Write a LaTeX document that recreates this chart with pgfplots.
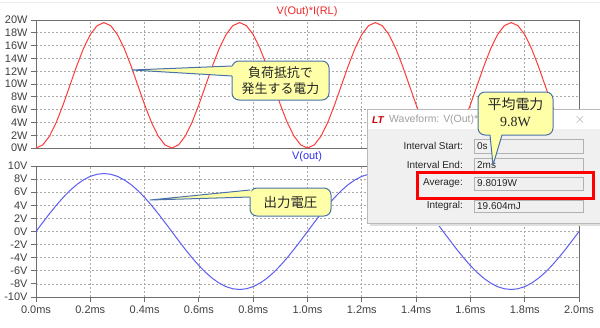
\documentclass[border=0pt]{standalone}
\usepackage{pgfplots}
\pgfplotsset{compat=1.18}
\usepackage{pgfplotstable}
\usepackage{fontspec}
\setmainfont{Liberation Sans}
\newfontfamily\cjk{Noto Sans CJK JP}
\newfontfamily\serif{Liberation Serif}

\definecolor{lred}{HTML}{FF3B3B}
\definecolor{lblue}{HTML}{5C5CF2}
\definecolor{tred}{HTML}{F02828}
\definecolor{tblue}{HTML}{3030F0}
\definecolor{framec}{HTML}{6E6E6E}
\definecolor{gridc}{HTML}{A8A8A8}
\definecolor{labc}{HTML}{404040}
\definecolor{callfill}{HTML}{FFFFA8}
\definecolor{callline}{HTML}{4A72A8}
\definecolor{dlgbg}{HTML}{F0F0F0}
\definecolor{fieldc}{HTML}{F0F0F0}

\pgfplotstableread{
t V P
0.000 0.000 0.000
0.025 1.384 0.480
0.050 2.735 1.872
0.075 4.018 4.040
0.100 5.202 6.772
0.125 6.258 9.800
0.150 7.160 12.828
0.175 7.885 15.560
0.200 8.417 17.728
0.225 8.741 19.120
0.250 8.850 19.600
0.275 8.741 19.120
0.300 8.417 17.728
0.325 7.885 15.560
0.350 7.160 12.828
0.375 6.258 9.800
0.400 5.202 6.772
0.425 4.018 4.040
0.450 2.735 1.872
0.475 1.384 0.480
0.500 0.000 0.000
0.525 -1.384 0.480
0.550 -2.735 1.872
0.575 -4.018 4.040
0.600 -5.202 6.772
0.625 -6.258 9.800
0.650 -7.160 12.828
0.675 -7.885 15.560
0.700 -8.417 17.728
0.725 -8.741 19.120
0.750 -8.850 19.600
0.775 -8.741 19.120
0.800 -8.417 17.728
0.825 -7.885 15.560
0.850 -7.160 12.828
0.875 -6.258 9.800
0.900 -5.202 6.772
0.925 -4.018 4.040
0.950 -2.735 1.872
0.975 -1.384 0.480
1.000 0.000 0.000
1.025 1.384 0.480
1.050 2.735 1.872
1.075 4.018 4.040
1.100 5.202 6.772
1.125 6.258 9.800
1.150 7.160 12.828
1.175 7.885 15.560
1.200 8.417 17.728
1.225 8.741 19.120
1.250 8.850 19.600
1.275 8.741 19.120
1.300 8.417 17.728
1.325 7.885 15.560
1.350 7.160 12.828
1.375 6.258 9.800
1.400 5.202 6.772
1.425 4.018 4.040
1.450 2.735 1.872
1.475 1.384 0.480
1.500 0.000 0.000
1.525 -1.384 0.480
1.550 -2.735 1.872
1.575 -4.018 4.040
1.600 -5.202 6.772
1.625 -6.258 9.800
1.650 -7.160 12.828
1.675 -7.885 15.560
1.700 -8.417 17.728
1.725 -8.741 19.120
1.750 -8.850 19.600
1.775 -8.741 19.120
1.800 -8.417 17.728
1.825 -7.885 15.560
1.850 -7.160 12.828
1.875 -6.258 9.800
1.900 -5.202 6.772
1.925 -4.018 4.040
1.950 -2.735 1.872
1.975 -1.384 0.480
2.000 0.000 0.000
}\wave

\pgfplotsset{ltsp/.style={
  scale only axis, width=543bp, xmin=0, xmax=2,
  xtick={0,0.2,0.4,0.6,0.8,1.0,1.2,1.4,1.6,1.8,2.0},
  grid=major,
  major grid style={gridc, dash pattern=on 2bp off 2bp, line width=0.7bp},
  axis line style={framec, line width=1bp},
  tick align=outside, major tick length=5bp,
  tick style={framec, line width=1bp},
  ticklabel style={font=\fontsize{11}{13}\selectfont, text=labc},
  /pgf/number format/assume math mode=true,
  ytick pos=left, xtick pos=bottom,
  anchor=south west,
}}

\begin{document}
\begin{tikzpicture}
\path[use as bounding box, fill=white] (0,0) rectangle (600bp,-328bp);
\draw[gray!15, line width=1bp] (0,-2bp) -- (600bp,-2bp);

\begin{axis}[ltsp, at={(36bp,-148bp)}, height=128bp, ymin=0, ymax=20,
  ytick={0,2,4,6,8,10,12,14,16,18,20},
  yticklabel={\pgfmathprintnumber{\tick}W},
  xticklabels={}, xtick style={draw=none}]
\addplot[lred, line width=1bp] table[x=t, y=P] {\wave};
\end{axis}

\begin{axis}[ltsp, at={(36bp,-297bp)}, height=131bp, ymin=-10, ymax=10,
  ytick={-10,-8,-6,-4,-2,0,2,4,6,8,10},
  yticklabel={\pgfmathprintnumber{\tick}V},
  xticklabel={\pgfmathprintnumber[fixed,fixed zerofill,precision=1]{\tick}ms}]
\addplot[lblue, line width=1bp] table[x=t, y=V] {\wave};
\end{axis}

\node[text=tred, font=\fontsize{11}{13}\selectfont] at (307bp,-12bp) {V(Out)*I(RL)};
\node[text=tblue, font=\fontsize{11}{13}\selectfont] at (307bp,-157bp) {V(out)};

% callout 1
\draw[fill=callfill, draw=callline, line width=1bp, rounded corners=7bp] (232bp,-61bp) rectangle (329bp,-100bp);
\fill[callfill] (233.5bp,-66bp) -- (132bp,-70bp) -- (233.5bp,-76bp) -- cycle;
\draw[callline, line width=1bp, line join=round] (232bp,-66bp) -- (132bp,-70bp) -- (232bp,-76bp);
\node[font=\cjk\fontsize{13}{16}\selectfont, align=center, text=black!85] at (280.5bp,-80.5bp) {負荷抵抗で\\発生する電力};

% callout 2
\draw[fill=callfill, draw=callline, line width=1bp, rounded corners=7bp] (250bp,-188bp) rectangle (331bp,-216bp);
\fill[callfill] (251.5bp,-190bp) -- (150bp,-200bp) -- (251.5bp,-197bp) -- cycle;
\draw[callline, line width=1bp, line join=round] (250bp,-190bp) -- (150bp,-200bp) -- (250bp,-197bp);
\node[font=\cjk\fontsize{13.5}{16}\selectfont, text=black!85] at (290.5bp,-202bp) {出力電圧};

% dialog
\fill[gray!25] (370bp,-112bp) rectangle (603bp,-226bp);
\draw[fill=dlgbg, draw=gray!55, line width=0.8bp] (367bp,-109bp) rectangle (604bp,-223bp);
\fill[white] (367.5bp,-109.5bp) rectangle (603bp,-129bp);
\node[text=red!80!black, font=\fontsize{10}{12}\selectfont\bfseries\itshape, anchor=west, inner sep=0pt] at (372bp,-120bp) {LT};
\node[text=gray!75, font=\fontsize{10.5}{12}\selectfont, anchor=west, inner sep=0pt] at (389bp,-120bp) {Waveform: V(Out)*I(RL)};
\node[text=gray!70, font=\fontsize{14}{14}\selectfont, inner sep=0pt] at (580bp,-120bp) {$\times$};

\foreach \ya/\yb/\lab/\val in {139/153/Interval Start:/0s, 158/172/Interval End:/2ms, 177/190/Average:/9.8019W, 200/212/Integral:/19.604mJ}{
  \draw[fill=fieldc, draw=gray!60, line width=0.8bp] (474bp,-\ya bp) rectangle (583bp,-\yb bp);
  \node[anchor=west, inner sep=0pt, font=\fontsize{10}{12}\selectfont, text=black!85] at (477bp,{-(\ya+\yb)/2*1bp}) {\val};
  \node[anchor=east, inner sep=0pt, font=\fontsize{10}{12}\selectfont, text=black!85] at (463bp,{-(\ya+\yb)/2*1bp}) {\lab};
}
\draw[red, line width=3bp] (417bp,-172bp) rectangle (593bp,-198bp);

% callout 3
\draw[fill=callfill, draw=callline, line width=1bp, rounded corners=7bp] (478bp,-92bp) rectangle (553bp,-135bp);
\fill[callfill] (490bp,-133.5bp) -- (493bp,-165bp) -- (502bp,-133.5bp) -- cycle;
\draw[callline, line width=1bp, line join=round] (490bp,-135bp) -- (493bp,-165bp) -- (502bp,-135bp);
\node[font=\cjk\fontsize{14}{16}\selectfont, text=black!85] at (515.5bp,-104.5bp) {平均電力};
\node[font=\serif\fontsize{14}{16}\selectfont, text=black!85] at (515.5bp,-122bp) {9.8W};
\end{tikzpicture}
\end{document}
